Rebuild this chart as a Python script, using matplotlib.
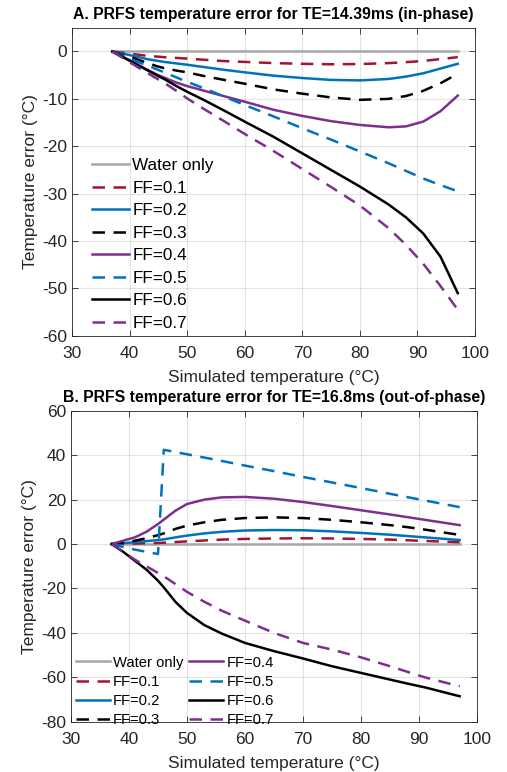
import matplotlib
matplotlib.use("Agg")
import matplotlib.pyplot as plt

plt.rcParams['font.family'] = ['Liberation Sans', 'DejaVu Sans']
plt.rcParams['axes.unicode_minus'] = False

# Simulated temperature (deg C) at which errors were evaluated
temp = [37, 39, 41, 43, 45, 46, 48, 50, 53, 56, 60, 65, 70, 75, 80, 85, 88, 91, 94, 97]

labels = ["Water only", "FF=0.1", "FF=0.2", "FF=0.3", "FF=0.4", "FF=0.5", "FF=0.6", "FF=0.7"]

# Panel A: TE = 14.39 ms (in-phase) temperature errors
a_water = [0] * len(temp)
a_ff01 = [0, -0.3, -0.6, -0.9, -1.1, -1.2, -1.35, -1.5, -1.75, -2.0, -2.2, -2.45, -2.6, -2.7, -2.65, -2.45, -2.25, -2.0, -1.6, -1.2]
a_ff02 = [0, -0.5, -1.0, -1.6, -2.0, -2.2, -2.5, -2.8, -3.3, -3.8, -4.4, -5.1, -5.6, -6.0, -6.1, -5.8, -5.3, -4.6, -3.6, -2.6]
a_ff03 = [0, -0.8, -1.5, -2.4, -3.2, -3.5, -4.0, -4.4, -5.2, -5.9, -6.8, -8.0, -8.9, -9.7, -10.2, -10.0, -9.4, -8.3, -6.7, -4.7]
a_ff04 = [0, -1.2, -2.5, -3.8, -5.0, -5.5, -6.5, -7.3, -8.3, -9.3, -10.6, -12.3, -13.6, -14.7, -15.5, -16.0, -15.8, -14.8, -12.6, -9.3]
a_ff05 = [0, -1.0, -2.0, -2.9, -3.9, -4.4, -5.4, -6.4, -7.8, -9.3, -11.3, -13.7, -16.2, -18.6, -21.1, -23.6, -25.2, -26.8, -28.2, -29.5]
a_ff06 = [0, -1.3, -2.6, -3.9, -5.2, -5.8, -7.2, -8.5, -10.3, -12.2, -14.8, -18.0, -21.5, -25.0, -28.5, -32.3, -35.0, -38.4, -43.3, -51.0]
a_ff07 = [0, -1.5, -3.0, -4.5, -5.9, -6.6, -8.2, -9.9, -12.2, -14.4, -17.4, -21.0, -24.8, -28.6, -32.5, -37.3, -40.8, -44.8, -49.5, -54.5]

# Panel B: TE = 16.8 ms (out-of-phase) temperature errors
b_water = [0] * len(temp)
b_ff01 = [0, 0.1, 0.2, 0.35, 0.5, 0.6, 0.9, 1.2, 1.6, 2.0, 2.3, 2.5, 2.6, 2.5, 2.3, 2.0, 1.7, 1.4, 1.1, 0.8]
b_ff02 = [0, 0.4, 0.8, 1.3, 1.8, 2.1, 3.0, 3.8, 4.8, 5.5, 6.1, 6.3, 6.2, 5.7, 5.0, 4.2, 3.6, 3.0, 2.4, 1.8]
b_ff03 = [0, 0.7, 1.5, 2.6, 4.0, 4.8, 6.8, 8.3, 9.8, 10.9, 11.7, 12.0, 11.7, 10.9, 9.8, 8.5, 7.6, 6.5, 5.3, 4.1]
b_ff04 = [0, 1.5, 3.0, 5.5, 9.0, 11.0, 15.0, 18.0, 20.0, 21.0, 21.2, 20.4, 18.9, 17.1, 15.2, 13.3, 12.1, 10.9, 9.7, 8.5]
b_ff05 = [0, -1.3, -2.5, -3.5, -4.5, 42.4, 41.4, 40.4, 38.9, 37.4, 35.3, 32.8, 30.2, 27.7, 25.2, 22.6, 21.1, 19.6, 18.1, 16.6]
b_ff06 = [0, -3.5, -7.5, -11.5, -16.5, -19.5, -26.0, -31.0, -36.5, -40.3, -44.5, -48.2, -51.5, -55.0, -58.0, -61.0, -62.8, -64.5, -66.5, -68.5]
b_ff07 = [0, -3.5, -7.0, -10.0, -13.0, -14.5, -18.0, -21.5, -26.0, -30.0, -34.5, -40.0, -44.5, -47.5, -51.0, -55.0, -57.5, -60.0, -62.0, -64.0]

x_ticks = list(range(30, 101, 10))
a_yticks = list(range(-60, 1, 10))
b_yticks = list(range(-80, 61, 20))

gray = (0.65, 0.65, 0.65)
red = (0.635, 0.078, 0.184)
blue = (0.0, 0.447, 0.741)
purple = (0.494, 0.184, 0.556)
black = (0.0, 0.0, 0.0)
styles = [
    (gray, '-'), (red, '--'), (blue, '-'), (black, '--'),
    (purple, '-'), (blue, '--'), (black, '-'), (purple, '--'),
]
axis_color = (0.15, 0.15, 0.15)

fig = plt.figure(figsize=(5.07, 7.72), dpi=100)
ax_a = fig.add_axes([0.142, 0.565, 0.795, 0.399])
ax_b = fig.add_axes([0.140, 0.065, 0.801, 0.403])


def draw(ax, series, yticks, ylim, title, legend_kw):
    handles = []
    for ys, (col, ls), lab in zip(series, styles, labels):
        line, = ax.plot(temp, ys, color=col, lw=1.8, label=lab, zorder=3)
        if ls == '--':
            line.set_dashes((5.0, 3.4))
        handles.append(line)
    ax.set_xlim(30, 100)
    ax.set_ylim(*ylim)
    ax.set_xticks(x_ticks)
    ax.set_yticks(yticks)
    ax.grid(True, color=(0.15, 0.15, 0.15), alpha=0.12, lw=0.8)
    ax.tick_params(direction='in', top=True, right=True, length=4,
                   labelsize=12.5, colors=axis_color, width=0.6)
    ax.tick_params(axis='x', pad=7)
    for sp in ax.spines.values():
        sp.set_color(axis_color)
        sp.set_linewidth(0.6)
    ax.set_xlabel("Simulated temperature (°C)", fontsize=12.5, color=axis_color, labelpad=7)
    ax.set_ylabel("Temperature error (°C)", fontsize=12.5, color=axis_color, labelpad=3)
    ax.set_title(title, fontsize=11.3, fontweight='bold', color='black', pad=6)
    leg = ax.legend(handles=handles, frameon=False, handletextpad=0.2, **legend_kw)
    return leg


draw(ax_a, [a_water, a_ff01, a_ff02, a_ff03, a_ff04, a_ff05, a_ff06, a_ff07],
     a_yticks, (-60, 5), "A. PRFS temperature error for TE=14.39ms (in-phase)",
     dict(loc='lower left', fontsize=12.3, handlelength=2.15, labelspacing=0.44,
          borderaxespad=0.3, bbox_to_anchor=(0.02, -0.022)))

draw(ax_b, [b_water, b_ff01, b_ff02, b_ff03, b_ff04, b_ff05, b_ff06, b_ff07],
     b_yticks, (-80, 60), "B. PRFS temperature error for TE=16.8ms (out-of-phase)",
     dict(loc='lower left', ncol=2, fontsize=10.6, handlelength=2.35, labelspacing=0.36,
          columnspacing=0.35, borderaxespad=0.0, bbox_to_anchor=(-0.003, -0.037)))

fig.savefig("out.png", dpi=100)
